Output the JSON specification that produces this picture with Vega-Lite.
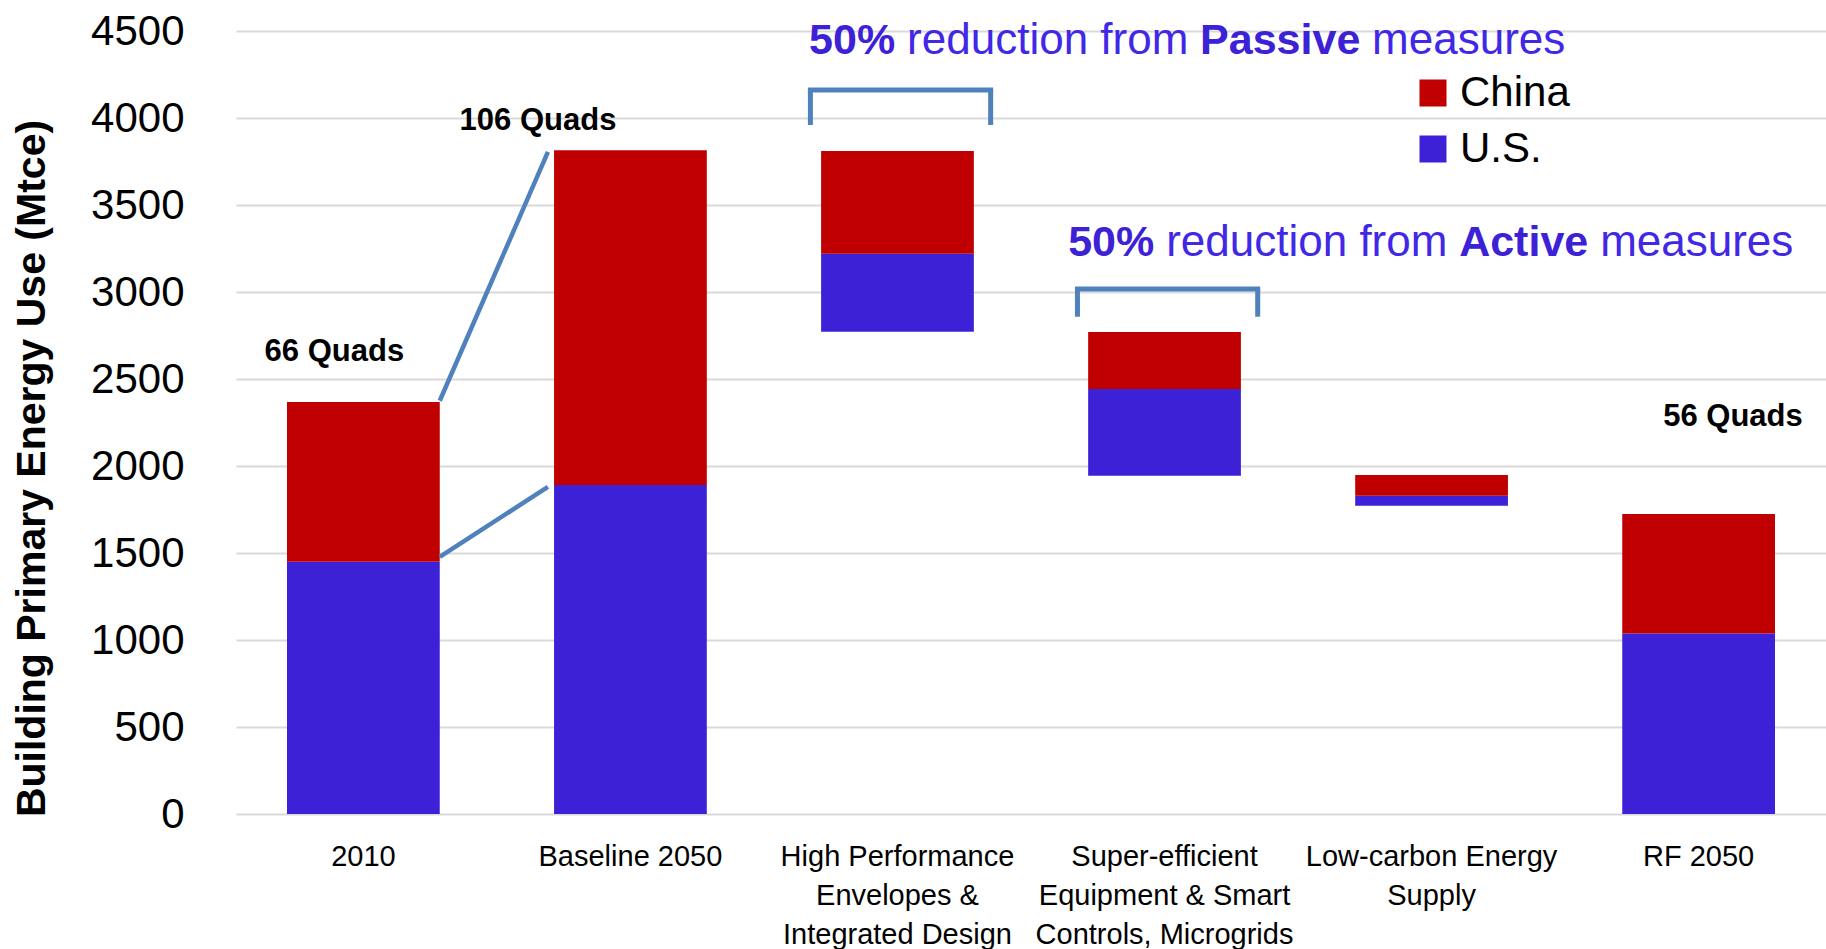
{
  "$schema": "https://vega.github.io/schema/vega-lite/v6.json",
  "width": 1590,
  "height": 783,
  "autosize": {"type": "none"},
  "padding": {"left": 236, "top": 31, "right": 0, "bottom": 135},
  "background": "white",
  "config": {"view": {"stroke": null}, "font": "Liberation Sans"},
  "datasets": {
    "bars": [
      {"cat": "2010", "country": "U.S.", "lo": 0, "hi": 1450},
      {"cat": "2010", "country": "China", "lo": 1450, "hi": 2368},
      {"cat": "Baseline 2050", "country": "U.S.", "lo": 0, "hi": 1891},
      {"cat": "Baseline 2050", "country": "China", "lo": 1891, "hi": 3814},
      {"cat": "High Performance|Envelopes &|Integrated Design", "country": "U.S.", "lo": 2772, "hi": 3220},
      {"cat": "High Performance|Envelopes &|Integrated Design", "country": "China", "lo": 3220, "hi": 3810},
      {"cat": "Super-efficient|Equipment & Smart|Controls, Microgrids", "country": "U.S.", "lo": 1944, "hi": 2442},
      {"cat": "Super-efficient|Equipment & Smart|Controls, Microgrids", "country": "China", "lo": 2442, "hi": 2770},
      {"cat": "Low-carbon Energy|Supply", "country": "U.S.", "lo": 1772, "hi": 1829},
      {"cat": "Low-carbon Energy|Supply", "country": "China", "lo": 1829, "hi": 1948},
      {"cat": "RF 2050", "country": "U.S.", "lo": 0, "hi": 1037},
      {"cat": "RF 2050", "country": "China", "lo": 1037, "hi": 1724}
    ],
    "connectors": [
      {"from": "2010", "to": "Baseline 2050", "y1": 2375, "y2": 3805},
      {"from": "2010", "to": "Baseline 2050", "y1": 1478, "y2": 1880}
    ],
    "brackets": [
      {"cat": "High Performance|Envelopes &|Integrated Design", "top": 4161, "bot": 3960},
      {"cat": "Super-efficient|Equipment & Smart|Controls, Microgrids", "top": 3017, "bot": 2858}
    ],
    "passive": [
      {"cat": "High Performance|Envelopes &|Integrated Design", "y": 4445, "pct": "50%", "mid": "reduction from", "key": "Passive", "tail": "measures"}
    ],
    "active": [
      {"cat": "Super-efficient|Equipment & Smart|Controls, Microgrids", "y": 3279, "pct": "50%", "mid": "reduction from", "key": "Active", "tail": "measures"}
    ],
    "quads": [
      {"cat": "2010", "y": 2655, "label": "66 Quads"},
      {"cat": "Baseline 2050", "y": 3983, "label": "106 Quads"},
      {"cat": "RF 2050", "y": 2282, "label": "56 Quads"}
    ]
  },
  "layer": [
    {
      "data": {"name": "bars"},
      "mark": {"type": "bar"},
      "encoding": {
        "x": {
          "field": "cat", "type": "nominal",
          "scale": {
            "domain": ["2010", "Baseline 2050", "High Performance|Envelopes &|Integrated Design", "Super-efficient|Equipment & Smart|Controls, Microgrids", "Low-carbon Energy|Supply", "RF 2050"],
            "paddingInner": 0.428, "paddingOuter": 0.191
          },
          "axis": {
            "title": null, "labelExpr": "split(datum.label, '|')", "labelFontSize": 29, "labelColor": "#000000",
            "labelLineHeight": 39, "labelPadding": 28, "labelLimit": 400, "ticks": false, "domain": false,
            "grid": false, "labelAngle": 0, "labelBaseline": "top", "labelOverlap": false
          }
        },
        "y": {
          "field": "hi", "type": "quantitative",
          "scale": {"domain": [0, 4500], "nice": false},
          "axis": {
            "title": "Building Primary Energy Use (Mtce)", "titleFontSize": 41, "titleFontWeight": "bold",
            "titleColor": "#000000", "titleX": -183, "titleY": 437,
            "values": [0, 500, 1000, 1500, 2000, 2500, 3000, 3500, 4000, 4500], "format": "d",
            "labelFontSize": 42, "labelColor": "#000000", "labelPadding": 52, "ticks": false, "domain": false,
            "gridColor": "#d9d9d9", "gridWidth": 2
          }
        },
        "y2": {"field": "lo"},
        "color": {
          "field": "country", "type": "nominal",
          "scale": {"domain": ["China", "U.S."], "range": ["#C00000", "#3C21D6"]},
          "legend": {
            "orient": "none", "legendX": 1176, "legendY": 41, "title": null, "symbolType": "square",
            "symbolSize": 729, "labelFontSize": 42, "labelColor": "#000000", "labelOffset": 6,
            "rowPadding": 14, "symbolStrokeWidth": 0, "padding": 0
          }
        }
      }
    },
    {
      "data": {"name": "connectors"},
      "mark": {"type": "rule", "color": "#4F81BD", "strokeWidth": 4.5},
      "encoding": {
        "x": {"field": "from", "type": "nominal", "bandPosition": 1},
        "x2": {"field": "to", "bandPosition": -0.04},
        "y": {"field": "y1", "type": "quantitative"},
        "y2": {"field": "y2"}
      }
    },
    {
      "data": {"name": "brackets"},
      "mark": {"type": "rule", "color": "#4F81BD", "strokeWidth": 5, "strokeCap": "square"},
      "encoding": {
        "x": {"field": "cat", "type": "nominal", "bandPosition": -0.07},
        "x2": {"field": "cat", "bandPosition": 1.11},
        "y": {"field": "top", "type": "quantitative"}
      }
    },
    {
      "data": {"name": "brackets"},
      "mark": {"type": "rule", "color": "#4F81BD", "strokeWidth": 5},
      "encoding": {
        "x": {"field": "cat", "type": "nominal", "bandPosition": -0.07},
        "y": {"field": "top", "type": "quantitative"},
        "y2": {"field": "bot"}
      }
    },
    {
      "data": {"name": "brackets"},
      "mark": {"type": "rule", "color": "#4F81BD", "strokeWidth": 5},
      "encoding": {
        "x": {"field": "cat", "type": "nominal", "bandPosition": 1.11},
        "y": {"field": "top", "type": "quantitative"},
        "y2": {"field": "bot"}
      }
    },
    {
      "data": {"name": "passive"},
      "mark": {"type": "text", "align": "left", "baseline": "middle", "fontSize": 43, "fontWeight": "bold", "color": "#3C21D6", "dx": -12},
      "encoding": {"x": {"field": "cat", "type": "nominal", "bandPosition": 0}, "y": {"field": "y", "type": "quantitative"}, "text": {"field": "pct"}}
    },
    {
      "data": {"name": "passive"},
      "mark": {"type": "text", "align": "left", "baseline": "middle", "fontSize": 44, "color": "#4127E6", "dx": 86},
      "encoding": {"x": {"field": "cat", "type": "nominal", "bandPosition": 0}, "y": {"field": "y", "type": "quantitative"}, "text": {"field": "mid"}}
    },
    {
      "data": {"name": "passive"},
      "mark": {"type": "text", "align": "left", "baseline": "middle", "fontSize": 43, "fontWeight": "bold", "color": "#3C21D6", "dx": 379},
      "encoding": {"x": {"field": "cat", "type": "nominal", "bandPosition": 0}, "y": {"field": "y", "type": "quantitative"}, "text": {"field": "key"}}
    },
    {
      "data": {"name": "passive"},
      "mark": {"type": "text", "align": "left", "baseline": "middle", "fontSize": 44, "color": "#4127E6", "dx": 551},
      "encoding": {"x": {"field": "cat", "type": "nominal", "bandPosition": 0}, "y": {"field": "y", "type": "quantitative"}, "text": {"field": "tail"}}
    },
    {
      "data": {"name": "active"},
      "mark": {"type": "text", "align": "left", "baseline": "middle", "fontSize": 43, "fontWeight": "bold", "color": "#3C21D6", "dx": -20},
      "encoding": {"x": {"field": "cat", "type": "nominal", "bandPosition": 0}, "y": {"field": "y", "type": "quantitative"}, "text": {"field": "pct"}}
    },
    {
      "data": {"name": "active"},
      "mark": {"type": "text", "align": "left", "baseline": "middle", "fontSize": 44, "color": "#4127E6", "dx": 78},
      "encoding": {"x": {"field": "cat", "type": "nominal", "bandPosition": 0}, "y": {"field": "y", "type": "quantitative"}, "text": {"field": "mid"}}
    },
    {
      "data": {"name": "active"},
      "mark": {"type": "text", "align": "left", "baseline": "middle", "fontSize": 43, "fontWeight": "bold", "color": "#3C21D6", "dx": 371},
      "encoding": {"x": {"field": "cat", "type": "nominal", "bandPosition": 0}, "y": {"field": "y", "type": "quantitative"}, "text": {"field": "key"}}
    },
    {
      "data": {"name": "active"},
      "mark": {"type": "text", "align": "left", "baseline": "middle", "fontSize": 44, "color": "#4127E6", "dx": 512},
      "encoding": {"x": {"field": "cat", "type": "nominal", "bandPosition": 0}, "y": {"field": "y", "type": "quantitative"}, "text": {"field": "tail"}}
    },
    {
      "data": {"name": "quads"},
      "transform": [{"filter": "datum.cat === '2010'"}],
      "mark": {"type": "text", "align": "center", "baseline": "middle", "fontSize": 31, "fontWeight": "bold", "color": "#000000"},
      "encoding": {"x": {"field": "cat", "type": "nominal", "bandPosition": 0.31}, "y": {"field": "y", "type": "quantitative"}, "text": {"field": "label"}}
    },
    {
      "data": {"name": "quads"},
      "transform": [{"filter": "datum.cat === 'Baseline 2050'"}],
      "mark": {"type": "text", "align": "center", "baseline": "middle", "fontSize": 31, "fontWeight": "bold", "color": "#000000"},
      "encoding": {"x": {"field": "cat", "type": "nominal", "bandPosition": -0.105}, "y": {"field": "y", "type": "quantitative"}, "text": {"field": "label"}}
    },
    {
      "data": {"name": "quads"},
      "transform": [{"filter": "datum.cat === 'RF 2050'"}],
      "mark": {"type": "text", "align": "center", "baseline": "middle", "fontSize": 31, "fontWeight": "bold", "color": "#000000"},
      "encoding": {"x": {"field": "cat", "type": "nominal", "bandPosition": 0.725}, "y": {"field": "y", "type": "quantitative"}, "text": {"field": "label"}}
    }
  ]
}
